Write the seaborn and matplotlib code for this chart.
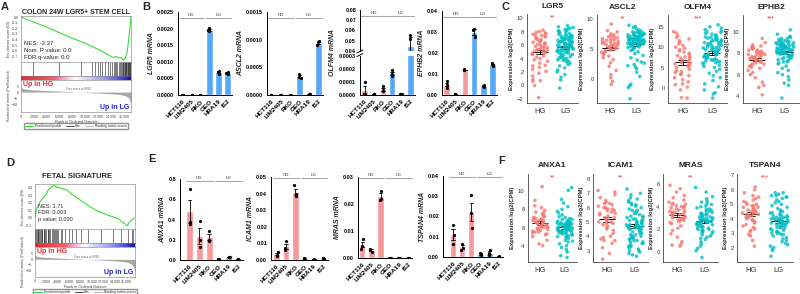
import numpy as np
import pandas as pd
import matplotlib
matplotlib.use("Agg")
import matplotlib.pyplot as plt
import matplotlib.transforms as mtrans
from matplotlib.colors import LinearSegmentedColormap
from matplotlib.lines import Line2D
import seaborn as sns

sns.set_theme(style="white")
plt.rcParams['font.family'] = ['Liberation Sans', 'DejaVu Sans']
np.random.seed(3)  # fixed strip jitter

W, H = 800, 294

# ---------------- data ----------------
# GSEA A: colon 24W LGR5+ stem cell
a_es_rank = [0, 2000, 4000, 6000, 8000, 10000, 12000, 13500, 14200, 14700, 15100, 15500, 15800, 16100, 16400, 16650, 16850, 17000]
a_es = [0.0, -0.09, -0.18, -0.28, -0.38, -0.47, -0.58, -0.67, -0.72, -0.70, -0.73, -0.72, -0.77, -0.74, -0.62, -0.40, -0.15, 0.0]
a_hits = [1800, 5900, 9300, 10900, 11500, 11900, 12200, 12500, 13000, 13400, 13700, 14000, 14300, 14500, 14700, 14900,
          15100, 15300, 15450, 15600, 15700, 15800, 15900, 16000, 16100, 16200, 16300, 16400, 16500, 16550, 16650,
          16700, 16800, 16900]
a_metric_rank = [0, 100, 500, 2000, 5000, 8926, 12000, 15000, 16000, 16600, 16900, 17000]
a_metric = [7.0, 3.5, 2.5, 1.8, 1.0, 0.0, -0.8, -1.8, -2.8, -4.5, -8.0, -12.0]

# GSEA D: fetal signature
d_es_rank = [0, 150, 400, 800, 1360, 2000, 2370, 3250, 3850, 4730, 5620, 6500, 7500, 8600, 10000, 11540, 13300, 14500,
             15700, 16150, 16550, 17000, 17350]
d_es = [0.0, 0.08, 0.14, 0.20, 0.26, 0.32, 0.38, 0.43, 0.41, 0.39, 0.37, 0.31, 0.26, 0.20, 0.13, 0.07, 0.02, -0.01,
        -0.08, -0.11, -0.05, -0.03, 0.0]
d_hits = [50, 200, 300, 450, 600, 700, 850, 1000, 1150, 1300, 1500, 1600, 1800, 2000, 2200, 2350, 2500, 2700, 2900,
          3100, 3300, 3500, 3700, 3900, 4100, 4500, 4800, 5300, 5900, 6500, 7100, 8000, 9200, 11500, 13600, 15100,
          16300, 16900, 17200]
d_metric_rank = [0, 100, 500, 2000, 5000, 8926, 12000, 15000, 16200, 16900, 17300, 17500]
d_metric = [7.0, 3.5, 2.5, 1.8, 1.0, 0.0, -0.8, -1.8, -2.8, -4.5, -8.0, -12.0]

# qPCR (B, E)
cell_lines = ["HCT116", "LIM2405", "RKO", "GEO", "HRA19", "IS2"]
lgr5_reps = [[0.000004, 0.000006, 0.000005], [0.000003, 0.000005, 0.000004], [0.000008, 0.00001, 0.000006],
             [0.00201, 0.00196, 0.00192], [0.00073, 0.00070, 0.00062], [0.00068, 0.00066, 0.00063]]
ascl2_reps = [[0.000003, 0.000004, 0.000002], [0.000004, 0.000006, 0.000005], [0.000002, 0.000003, 0.000002],
              [0.00038, 0.00033, 0.00030], [0.000012, 0.00001, 0.000008], [0.00097, 0.00095, 0.00090]]
olfm4_reps = [[0.0001, 0.00001, 0.00001], [0.000004, 0.000006, 0.000005], [0.00007, 0.000035, 0.00003],
              [0.00019, 0.000165, 0.00015], [0.000006, 0.000004, 0.000005], [0.056, 0.052, 0.027]]
ephb2_reps = [[0.0065, 0.005, 0.0035], [0.0005, 0.0006, 0.0004], [0.0122, 0.0120, 0.0118],
              [0.0315, 0.031, 0.0275], [0.0046, 0.0043, 0.004], [0.0153, 0.0145, 0.014]]
anxa1_reps = [[0.70, 0.38, 0.36], [0.39, 0.20, 0.13], [0.29, 0.20, 0.19],
              [0.004, 0.006, 0.005], [0.03, 0.028, 0.025], [0.005, 0.004, 0.006]]
icam1_reps = [[0.005, 0.003, 0.0025], [0.0115, 0.007, 0.0062], [0.045, 0.0395, 0.0385],
              [0.0012, 0.001, 0.0008], [0.0003, 0.0002, 0.0004], [0.0012, 0.0011, 0.0009]]
mras_reps = [[0.007, 0.0045, 0.0035], [0.0035, 0.003, 0.0022], [0.025, 0.022, 0.0215],
             [0.0001, 0.0001, 0.0001], [0.0001, 0.00012, 0.00008], [0.0001, 0.0001, 0.00012]]
tspan4_reps = [[0.016, 0.011, 0.0065], [0.0065, 0.0045, 0.0035], [0.0305, 0.0215, 0.0145],
               [0.002, 0.0015, 0.001], [0.0035, 0.002, 0.001], [0.0002, 0.0003, 0.0002]]

# patient expression (C, F)
lgr5_hg = [8.2, 8.0, 7.9, 7.8, 7.7, 7.6, 7.5, 7.3, 7.2, 7.0, 6.9, 6.7, 6.5, 6.4, 6.2, 6.0, 5.9, 5.8, 5.6, 5.5,
           5.3, 5.2, 5.0, 4.9, 4.7, 4.6, 4.4, 4.2, 4.0, 3.8, 3.6, 3.3, 3.0, 2.9, 2.7, 2.4, 2.1, 1.8, 1.4, 0.9,
           0.7, 0.6, 0.0, -1.8, 5.4, 6.8, 7.4, 6.1, 5.7, 5.1, 7.1, 6.3]
lgr5_lg = [-0.4, 0.8, 1.2, 1.6, 2.0, 2.3, 2.6, 2.9, 3.1, 3.3,
           3.5, 3.6, 3.7, 3.8, 3.9, 4.0, 4.0, 4.1, 4.2, 4.3, 4.4, 4.5,
           4.6, 4.7, 4.8, 4.8, 4.9, 5.0, 5.0, 5.1, 5.1, 5.2, 5.3, 5.3, 5.4, 5.4, 5.5,
           5.6, 5.6, 5.7, 5.7, 5.8, 5.8, 5.9, 5.9, 6.0, 6.0, 6.1, 6.1, 6.2, 6.2, 6.3, 6.3, 6.4, 6.4, 6.5, 6.5,
           6.6, 6.6, 6.7, 6.7, 6.8, 6.8, 6.9, 6.9, 7.0, 7.0, 7.1, 7.1, 7.2, 7.2, 7.3, 7.3, 7.4, 7.4,
           7.5, 7.6, 7.7, 7.8, 7.9, 8.0, 8.1, 8.2, 8.3, 8.4, 8.5, 8.6, 8.7, 8.9]
ascl2_hg = [-0.8, -0.3, 0.3, 0.8, 1.5, 2.2, 2.8, 3.3, 3.6, 3.9, 4.1, 4.3, 4.5, 4.6, 4.8, 4.9, 5.0, 5.1, 5.2, 5.3,
            5.4, 5.5, 5.6, 5.7, 5.8, 5.9, 6.0, 6.1, 6.2, 6.3, 6.4, 6.5, 6.6, 6.8, 7.0, 7.2, 7.4, 7.6, 7.9, 8.1,
            9.2, 6.0, 6.6, 7.1, 5.8, 6.9]
ascl2_lg = [-3.2, -1.3, -1.0, -0.8, 0.5, 1.2, 1.8, 2.1, 2.3, 2.5, 2.7, 2.9, 3.2, 3.6,
            4.0, 4.3, 4.6, 4.8, 5.0, 5.1, 5.2, 5.3, 5.4, 5.5,
            5.6, 5.6, 5.7, 5.7, 5.8, 5.8, 5.9, 5.9, 6.0, 6.0, 6.1, 6.1, 6.2, 6.2, 6.3, 6.3, 6.4, 6.4, 6.5, 6.5,
            6.6, 6.6, 6.7, 6.7, 6.8, 6.8, 6.9, 6.9, 7.0, 7.0, 7.1, 7.1, 7.2, 7.3, 7.4, 7.5,
            7.6, 7.7, 7.8, 7.9, 8.0, 8.2, 8.4, 8.6, 8.8, 9.0,
            6.0, 6.2, 6.4, 6.6, 6.8, 7.0, 7.2, 6.1, 6.3, 6.5, 6.7, 6.9, 7.1, 7.3, 7.5, 7.7, 6.0, 6.5, 7.0, 7.4,
            6.4, 6.8, 7.2, 7.6, 6.2, 6.6, 7.0, 7.4, 8.0, 5.9]
olfm4_hg = [-2.5, -2.4, -0.5, 0.2, 0.8, 1.5, 2.0, 2.5, 3.0, 3.3, 3.8, 4.2, 4.6, 5.0, 5.3, 5.6, 5.9, 6.2, 6.5, 6.8,
            7.0, 7.3, 7.6, 7.9, 8.2, 8.5, 8.8, 9.1, 9.4, 9.7, 10.0, 10.4, 10.8, 11.2, 11.6, 12.0, 12.4, 12.8, 13.5,
            13.8, 4.0, 5.5, 6.0, 1.0, 3.5, 7.5]
olfm4_lg = [-2.5, -1.5, -1.2, -0.5, 0.3, 1.0, 1.8, 2.5, 3.0, 3.6, 4.1, 4.6,
            5.0, 5.3, 5.6, 5.9, 6.2, 6.4, 6.6, 6.8, 7.0, 7.2, 7.4, 7.6, 7.8, 8.0, 8.2, 8.4, 8.6, 8.8, 9.0, 9.2,
            9.4, 9.6, 9.8, 10.0, 10.2, 10.4, 10.6, 10.8, 11.0, 11.2, 11.4, 11.6, 11.8, 12.0, 12.2, 12.4, 12.6,
            12.8, 13.0, 13.2, 13.4, 13.6, 13.8, 14.0, 14.3, 14.7, 15.0, 15.5,
            6.1, 6.9, 7.5, 8.1, 8.7, 9.3, 9.9, 10.5, 11.1, 11.7, 12.3, 7.1, 8.3, 9.5, 10.1, 10.9, 11.5, 12.5, 6.5, 7.7]
ephb2_hg = [4.1, 4.8, 5.0, 5.3, 5.7, 6.0, 6.2, 6.4, 6.6, 6.8, 6.9, 7.0, 7.1, 7.2, 7.3, 7.4, 7.5, 7.6, 7.7, 7.8,
            7.9, 8.0, 8.1, 8.2, 8.3, 8.4, 8.5, 8.6, 8.8, 9.0, 9.4, 7.0, 7.3, 7.6, 7.9, 8.1, 6.7, 7.2, 7.5, 8.0,
            8.2, 8.5, 7.8, 8.7, 7.7, 8.3, 8.6]
ephb2_lg = [3.8, 5.0, 5.2, 5.5, 5.8, 6.0, 6.2, 6.4, 6.6, 6.8, 7.0, 7.1, 7.2, 7.3, 7.4, 7.5, 7.6, 7.7, 7.8, 7.9,
            8.0, 8.0, 8.1, 8.1, 8.2, 8.2, 8.3, 8.3, 8.4, 8.4, 8.5, 8.5, 8.6, 8.6, 8.7, 8.7, 8.8, 8.8, 8.9, 8.9,
            9.0, 9.0, 9.1, 9.2, 9.3, 9.4, 9.5, 9.6, 9.8, 10.2,
            7.5, 7.8, 8.0, 8.2, 8.4, 8.6, 8.8, 7.2, 7.6, 8.1, 8.3, 8.5, 8.7, 8.9, 9.1, 7.9, 8.0, 7.7, 8.2, 8.4,
            8.8, 9.0, 8.6, 9.2, 8.5, 8.9, 9.4, 8.7, 9.1, 8.3]
anxa1_hg = [4.0, 4.2, 4.6, 5.0, 5.2, 5.4, 5.5, 5.6, 5.7, 5.8, 5.9, 6.0, 6.1, 6.2, 6.3, 6.4, 6.5, 6.6, 6.7, 6.8,
            6.9, 7.0, 7.1, 7.2, 7.3, 7.5, 7.7, 7.9, 8.2, 8.4, 9.0, 10.5, 5.8, 6.2, 6.6, 6.0, 7.0, 6.4, 5.5, 6.8,
            6.1, 6.9, 5.3, 7.6, 6.5]
anxa1_lg = [2.7, 2.9, 3.3, 3.6, 4.0, 4.2, 4.4, 4.6, 4.8, 5.0, 5.1, 5.2, 5.3, 5.4, 5.5, 5.5, 5.6, 5.6, 5.7, 5.7,
            5.8, 5.8, 5.9, 5.9, 6.0, 6.0, 6.1, 6.1, 6.2, 6.2, 6.3, 6.3, 6.4, 6.4, 6.5, 6.5, 6.6, 6.6, 6.7, 6.8,
            6.9, 7.0, 7.2, 7.4, 7.6, 7.8, 8.0, 8.3, 8.7, 9.1, 10.4, 10.1, 5.2, 5.4, 5.6, 5.8, 6.0, 6.2, 6.4, 5.9,
            5.0, 5.3, 5.5, 5.7, 6.1, 6.3, 6.5, 6.9, 4.5, 3.8, 6.0, 5.9, 6.2, 5.6, 6.6, 7.1, 4.9, 5.8, 6.4, 6.7]
icam1_hg = [2.4, 2.8, 3.2, 3.5, 3.7, 3.7, 3.8, 4.0, 4.2, 4.4, 4.6, 4.7, 4.8, 4.9, 5.0, 5.1, 5.2, 5.3, 5.4, 5.5,
            5.6, 5.7, 5.8, 5.9, 6.0, 6.1, 6.2, 6.3, 6.4, 6.5, 6.7, 6.9, 7.1, 7.2, 5.0, 5.3, 5.6, 4.9, 5.8, 6.0,
            4.5, 5.9, 6.3, 3.9, 5.2]
icam1_lg = [2.6, 2.7, 2.8, 3.0, 3.1, 3.2, 3.3, 3.4, 3.5, 3.6, 3.7, 3.8, 3.9, 4.0, 4.1, 4.2, 4.3, 4.4, 4.5, 4.6,
            4.6, 4.7, 4.7, 4.8, 4.8, 4.9, 4.9, 5.0, 5.0, 5.1, 5.1, 5.2, 5.3, 5.4, 5.5, 5.6, 5.7, 5.8, 5.9, 6.0,
            6.1, 6.2, 6.3, 6.4, 6.5, 6.6, 6.7, 6.9, 7.0, 7.3,
            3.5, 3.9, 4.2, 4.4, 4.6, 4.8, 5.0, 5.2, 5.4, 5.6, 5.8, 4.0, 4.3, 4.5, 4.7, 4.9, 5.1, 5.3, 3.7, 6.2,
            3.0, 3.3, 3.8, 4.1, 4.4, 4.6, 2.9, 3.6, 4.0, 4.5]
mras_hg = [0.5, 0.6, 0.7, 0.9, 1.3, 1.6, 1.9, 2.1, 2.3, 2.5, 2.7, 2.8, 2.9, 3.0, 3.1, 3.2, 3.3, 3.4, 3.5, 3.6,
           3.7, 3.8, 3.9, 4.0, 4.1, 4.2, 4.3, 4.4, 4.6, 4.8, 5.0, 5.3, 5.6, 5.9, 3.0, 3.3, 3.6, 2.9, 3.9, 4.0,
           3.1, 3.5, 2.6, 4.2, 2.8]
mras_lg = [-0.5, 0.1, 0.3, 0.5, 0.7, 0.9, 1.1, 1.3, 1.4, 1.5, 1.6, 1.7, 1.8, 1.9, 2.0, 2.1, 2.2, 2.3, 2.4, 2.5,
           2.5, 2.6, 2.6, 2.7, 2.7, 2.8, 2.8, 2.9, 2.9, 3.0, 3.0, 3.1, 3.2, 3.3, 3.4, 3.5, 3.6, 3.7, 3.8, 3.9,
           4.0, 4.1, 4.2, 4.3, 4.4, 4.5, 4.7, 4.9, 5.3, 5.7,
           1.8, 2.0, 2.2, 2.4, 2.6, 2.8, 3.0, 3.2, 3.4, 3.6, 1.9, 2.1, 2.3, 2.5, 2.7, 2.9, 3.1, 3.3, 1.2, 3.8]
tspan4_hg = [2.1, 2.5, 2.8, 2.9, 3.1, 3.3, 3.5, 3.6, 3.7, 3.8, 3.9, 4.0, 4.1, 4.2, 4.3, 4.4, 4.5, 4.6, 4.7, 4.8,
             4.9, 5.0, 5.1, 5.2, 5.3, 5.4, 5.6, 5.8, 6.0, 6.2, 4.2, 4.5, 4.8, 3.9, 4.4, 4.6, 5.0, 3.4, 4.1, 4.3,
             4.7, 5.5, 3.2, 4.9, 4.4]
tspan4_lg = [1.4, 1.8, 1.9, 2.0, 2.2, 2.4, 2.6, 2.7, 2.8, 2.9, 3.0, 3.1, 3.2, 3.3, 3.4, 3.5, 3.5, 3.6, 3.6, 3.7,
             3.7, 3.8, 3.8, 3.9, 3.9, 4.0, 4.0, 4.1, 4.1, 4.2, 4.2, 4.3, 4.4, 4.5, 4.6, 4.7, 4.8, 4.9, 5.0, 5.1,
             5.2, 5.3, 5.4, 5.5, 5.6, 5.7, 5.8, 5.8, 5.6, 5.5,
             3.2, 3.4, 3.6, 3.8, 4.0, 4.2, 4.4, 3.3, 3.5, 3.7, 3.9, 4.1, 4.3, 4.5, 2.5, 3.0, 3.8, 4.0, 3.6, 2.1,
             2.3, 3.1, 3.4, 2.9, 3.0]

# ---------------- style ----------------
GREEN = "#33E033"
BAR_RED = "#F7999A"
BAR_BLUE = "#55A8F5"
HG_COL = "#F8766D"
LG_COL = "#00BFC4"
bar_palette = dict(zip(cell_lines, [BAR_RED] * 3 + [BAR_BLUE] * 3))
rank_cmap = LinearSegmentedColormap.from_list(
    "rank", [(0, "#E8262B"), (0.3, "#F06070"), (0.38, "#F4A8C8"), (0.5, "#FFFFFF"), (0.58, "#D8D8F4"),
             (0.75, "#A0A0EA"), (0.9, "#5050D8"), (1.0, "#1010A0")])

fig = plt.figure(figsize=(8, 2.94), dpi=100)
fig.patch.set_facecolor("white")


def box(x0, y0, x1, y1):
    return [x0 / W, 1 - y1 / H, (x1 - x0) / W, (y1 - y0) / H]


def ftext(x, y, s, **kw):
    fig.text(x / W, 1 - y / H, s, **kw)


def thin_axes(ax):
    for s in ax.spines.values():
        s.set_linewidth(0.4)
        s.set_color("#777777")
    ax.tick_params(labelsize=2.6, length=1, width=0.3, pad=0.8, colors="#444444")


# ---------------- GSEA panels (A, D) ----------------
def gsea_panel(x0, x1, ys, n_ranks, es_rank, es_val, hits, m_rank, m_val, es_lim, es_ticks, m_lim, legend_y):
    y_es, y_hit, y_bar, y_rank, y_end = ys
    ax_es = fig.add_axes(box(x0, y_es, x1, y_hit))
    sns.lineplot(x=es_rank, y=es_val, color=GREEN, linewidth=0.8, ax=ax_es)
    ax_es.set_xlim(0, n_ranks)
    ax_es.set_ylim(es_lim)
    ax_es.set_yticks(es_ticks)
    ax_es.set_yticklabels([f"{t:.1f}" for t in es_ticks])
    ax_es.set_xticks([])
    ax_es.set_ylabel("Enrichment score (ES)", fontsize=2.6, labelpad=1, color="#444444")
    thin_axes(ax_es)

    ax_hit = fig.add_axes(box(x0, y_hit, x1, y_bar))
    ax_hit.vlines(hits, 0, 1, color="#1a1a1a", linewidth=0.4)
    ax_hit.set_xlim(0, n_ranks)
    ax_hit.set_ylim(0, 1)
    ax_hit.set_xticks([])
    ax_hit.set_yticks([])
    thin_axes(ax_hit)

    ax_bar = fig.add_axes(box(x0, y_bar, x1, y_rank))
    ax_bar.imshow(np.linspace(0, 1, 256).reshape(1, -1), aspect="auto", cmap=rank_cmap,
                  extent=[0, n_ranks, 0, 1])
    ax_bar.set_xticks([])
    ax_bar.set_yticks([])
    thin_axes(ax_bar)

    ax_rank = fig.add_axes(box(x0, y_rank, x1, y_end))
    ax_rank.fill_between(m_rank, m_val, 0, color="#A8A8A8", linewidth=0)
    ax_rank.set_xlim(0, n_ranks)
    ax_rank.set_ylim(m_lim)
    ax_rank.set_yticks([5, 0, -5, -10])
    ax_rank.set_xticks(range(0, 16001, 2000))
    ax_rank.set_xticklabels([f"{t:,}" for t in range(0, 16001, 2000)])
    ax_rank.set_xlabel("Rank in Ordered Dataset", fontsize=2.8, labelpad=1, color="#444444")
    ax_rank.set_ylabel("Ranked list metric (PreRanked)", fontsize=2.6, labelpad=1, color="#444444")
    ax_rank.text(8926, 0.5, "Zero cross at 8926", fontsize=2.2, ha="center", va="bottom", color="#666666")
    ax_rank.text(0.02, 0.97, "Up in HG", transform=ax_rank.transAxes, ha="left", va="top",
                 color="#E8262B", fontsize=5, fontweight="bold")
    ax_rank.text(0.98, 0.04, "Up in LG", transform=ax_rank.transAxes, ha="right", va="bottom",
                 color="#1E1ED8", fontsize=5, fontweight="bold")
    thin_axes(ax_rank)
    handles = [Line2D([], [], color=GREEN, lw=0.8, label="Enrichment profile"),
               Line2D([], [], color="black", lw=0.5, label="Hits"),
               Line2D([], [], color="#999999", lw=0.5, label="Ranking metric scores")]
    ax_rank.legend(handles=handles, loc="upper center", bbox_to_anchor=(0.5, legend_y), ncol=3,
                   fontsize=2.3, frameon=True, fancybox=False, edgecolor="#777777", handlelength=2.5,
                   columnspacing=1.5, borderpad=0.3, handletextpad=0.4)


gsea_panel(21, 131, (16, 62, 76, 80, 112), 17000, a_es_rank, a_es, a_hits, a_metric_rank, a_metric,
           (-0.8, 0.02), [0.0, -0.1, -0.2, -0.3, -0.4, -0.5, -0.6, -0.7], (-16.5, 10), -0.3)
gsea_panel(35, 135, (184, 229, 243, 247, 277), 17500, d_es_rank, d_es, d_hits, d_metric_rank, d_metric,
           (-0.15, 0.45), [-0.1, 0.0, 0.1, 0.2, 0.3, 0.4], (-16.5, 11.5), -0.36)

ftext(76, 13, "COLON 24W LGR5+ STEM CELL", ha="center", va="center", fontsize=5, fontweight="bold")
ftext(24, 43, "NES: -2.37", fontsize=4.3, va="center", color="#222222")
ftext(24, 50, "Nom. P value: 0.0", fontsize=4.3, va="center", color="#222222")
ftext(24, 57, "FDR q-value: 0.0", fontsize=4.3, va="center", color="#222222")
ftext(77, 176, "FETAL SIGNATURE", ha="center", va="center", fontsize=5.5, fontweight="bold")
ftext(38, 207, "NES: 1.71", fontsize=4.0, va="center", color="#222222")
ftext(38, 213, "FDR: 0.003", fontsize=4.0, va="center", color="#222222")
ftext(38, 219.5, "p value: 0.000", fontsize=4.0, va="center", color="#222222")


# ---------------- qPCR bar panels (B, E) ----------------
def bracket(ax, y):
    trans = mtrans.blended_transform_factory(ax.transData, ax.transAxes)
    for a, b, lab in [(-0.4, 2.4, "HG"), (2.6, 5.4, "LG")]:
        ax.plot([a, b], [y, y], transform=trans, color="#AAAAAA", lw=0.8, clip_on=False)
        ax.text((a + b) / 2, y + 0.012, lab, transform=trans, ha="center", va="bottom", fontsize=3.2,
                color="#777777", fontweight="bold")


def bar_panel(rect, reps, gene, ylim, yticks, fmt, xlim, show_x=True, ylabel=True):
    ax = fig.add_axes(box(*rect))
    df = pd.DataFrame({"line": [cl for cl, r in zip(cell_lines, reps) for _ in r],
                       "val": [v for r in reps for v in r]})
    sns.barplot(data=df, x="line", y="val", hue="line", order=cell_lines, hue_order=cell_lines,
                palette=bar_palette, saturation=1, errorbar="se", capsize=0.35, width=0.72,
                err_kws={"linewidth": 0.6, "color": "black"}, legend=False, ax=ax)
    sns.stripplot(data=df, x="line", y="val", order=cell_lines, color="black", size=2.3, jitter=0.12,
                  linewidth=0, ax=ax)
    ax.set_xlim(xlim)
    ax.set_ylim(ylim)
    ax.set_yticks(yticks)
    ax.set_yticklabels([fmt.format(t) for t in yticks], fontsize=4, fontweight="bold")
    ax.tick_params(axis="both", length=1.8, width=0.6, pad=1, colors="black")
    if show_x:
        ax.set_xticks(range(6))
        ax.set_xticklabels(cell_lines, rotation=45, ha="right", rotation_mode="anchor", fontsize=4.6,
                           fontweight="bold")
    else:
        ax.set_xticks([])
    ax.set_xlabel("")
    if ylabel:
        ax.set_ylabel(f"{gene} mRNA", fontstyle="italic", fontweight="bold", fontsize=5, labelpad=1.5)
    else:
        ax.set_ylabel("")
    sns.despine(ax=ax)
    for s in ("left", "bottom"):
        ax.spines[s].set_linewidth(0.7)
        ax.spines[s].set_color("black")
    return ax


ax = bar_panel((178, 12, 232, 95), lgr5_reps, "LGR5", (0, 0.0025), [0, 0.0005, 0.001, 0.0015, 0.002, 0.0025],
               "{:.4f}", (-0.5, 5.5))
bracket(ax, 0.93)
ax = bar_panel((267, 12, 323, 95), ascl2_reps, "ASCL2", (0, 0.0015), [0, 0.0005, 0.001, 0.0015],
               "{:.4f}", (-0.5, 5.5))
bracket(ax, 0.93)
# OLFM4 with broken axis
ax_up = bar_panel((360, 10, 415, 51), olfm4_reps, "OLFM4", (0.04, 0.08), [0.04, 0.05, 0.06, 0.07, 0.08],
                  "{:.2f}", (-0.5, 5.5), show_x=False, ylabel=False)
ax_up.spines["bottom"].set_visible(False)
bracket(ax_up, 0.86)
bar_panel((360, 56, 415, 95), olfm4_reps, "OLFM4", (0, 0.0003), [0, 0.0001, 0.0002, 0.0003],
          "{:.4f}", (-0.5, 5.5), ylabel=False)
ftext(333, 53, "OLFM4 mRNA", rotation=90, ha="center", va="center", fontsize=5, fontstyle="italic",
      fontweight="bold")
for yy in (51.5, 55):
    fig.add_artist(Line2D([357 / W, 363 / W], [1 - (yy + 1.5) / H, 1 - (yy - 1.5) / H],
                          transform=fig.transFigure, color="black", lw=0.7))
ax = bar_panel((442, 11, 497, 95), ephb2_reps, "EPHB2", (0, 0.04), [0, 0.01, 0.02, 0.03, 0.04],
               "{:.2f}", (-0.5, 5.5))
bracket(ax, 0.93)

ax = bar_panel((180, 179, 243, 260), anxa1_reps, "ANXA1", (0, 0.8), [0, 0.2, 0.4, 0.6, 0.8],
               "{:.1f}", (-1.0, 5.5))
bracket(ax, 0.975)
ax = bar_panel((271, 177, 328, 260), icam1_reps, "ICAM1", (0, 0.05), [0, 0.01, 0.02, 0.03, 0.04, 0.05],
               "{:.2f}", (-0.6, 5.5))
bracket(ax, 0.985)
ax = bar_panel((358, 177, 412, 258), mras_reps, "MRAS", (0, 0.03), [0, 0.01, 0.02, 0.03],
               "{:.2f}", (-0.45, 5.4))
bracket(ax, 0.99)
ax = bar_panel((443, 176, 503, 257), tspan4_reps, "TSPAN4", (0, 0.04), [0, 0.01, 0.02, 0.03, 0.04],
               "{:.2f}", (-1.1, 5.5))
bracket(ax, 0.99)


# ---------------- patient scatter panels (C, F) ----------------
def scatter_panel(rect, hg, lg, gene, stars, ylim, yticks, title_pad):
    ax = fig.add_axes(box(*rect))
    df = pd.DataFrame({"group": ["HG"] * len(hg) + ["LG"] * len(lg), "expr": hg + lg})
    sns.stripplot(data=df, x="group", y="expr", hue="group", order=["HG", "LG"],
                  palette={"HG": HG_COL, "LG": LG_COL}, jitter=0.32, size=2.6, alpha=0.8, linewidth=0,
                  legend=False, ax=ax)
    sns.pointplot(data=df, x="group", y="expr", order=["HG", "LG"], errorbar="se", color="black",
                  capsize=0.3, marker="_", markersize=11, markeredgewidth=0.7, linestyle="none",
                  err_kws={"linewidth": 0.6}, ax=ax)
    ax.set_xlim(-0.5, 1.5)
    ax.set_ylim(ylim)
    ax.set_yticks(yticks)
    ax.tick_params(axis="y", labelsize=4.2, length=1.5, width=0.5, pad=1, colors="#333333")
    ax.tick_params(axis="x", labelsize=5.5, length=1.5, width=0.5, pad=2, colors="#333333")
    ax.set_xlabel("")
    ax.set_ylabel("Expression log2(CPM)", fontsize=4.2, fontweight="bold", labelpad=2)
    ax.set_title(gene, fontsize=6, fontweight="bold", pad=title_pad)
    ax.text(0.5, 1.0, stars, transform=ax.transAxes, ha="center", va="top", color="#E23A3A", fontsize=5)
    sns.despine(ax=ax)
    for s in ("left", "bottom"):
        ax.spines[s].set_linewidth(0.6)
        ax.spines[s].set_color("#444444")


scatter_panel((527, 14, 578, 103), lgr5_hg, lgr5_lg, "LGR5", "**", (-2.6, 10.6), [-2, 0, 2, 4, 6, 8, 10], 4)
scatter_panel((597, 15, 649, 103), ascl2_hg, ascl2_lg, "ASCL2", "**", (-3.9, 10.7), [0, 5, 10], 4)
scatter_panel((668, 15, 727, 103), olfm4_hg, olfm4_lg, "OLFM4", "***", (-3.7, 17.9), [0, 5, 10, 15], 4)
scatter_panel((743, 15, 799, 103), ephb2_hg, ephb2_lg, "EPHB2", "***", (3.34, 11.6), [4, 6, 8, 10], 4)
scatter_panel((528, 174, 577, 262), anxa1_hg, anxa1_lg, "ANXA1", "**", (2.2, 11.9), [4, 6, 8, 10], 5)
scatter_panel((593, 174, 648, 262), icam1_hg, icam1_lg, "ICAM1", "**", (2.2, 8.35), [3, 4, 5, 6, 7, 8], 5)
scatter_panel((663, 174, 718, 262), mras_hg, mras_lg, "MRAS", "**", (-0.9, 6.9), [0, 2, 4, 6], 5)
scatter_panel((737, 174, 793, 262), tspan4_hg, tspan4_lg, "TSPAN4", "***", (1.0, 7.1), [2, 3, 4, 5, 6, 7], 5)

# panel letters
for lab, x, y in [("A", 1, 2), ("B", 142, 2), ("C", 501, 2), ("D", 6, 158), ("E", 148, 154), ("F", 498, 156)]:
    ftext(x, y, lab, ha="left", va="top", fontsize=8, fontweight="bold")

fig.savefig("out.png", dpi=100, facecolor="white")
